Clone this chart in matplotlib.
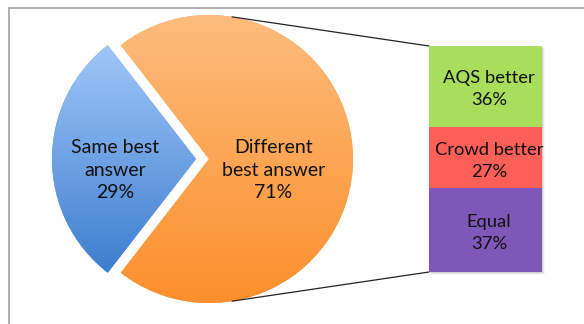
import numpy as np
import matplotlib.pyplot as plt
from matplotlib.patches import ConnectionPatch, Rectangle
from matplotlib.lines import Line2D
from matplotlib.colors import LinearSegmentedColormap

plt.rcParams['font.family'] = ['Lato', 'DejaVu Sans']

# pie: same vs different best answer
pie_labels = ['Same best\nanswer', 'Different\nbest answer']
pie_values = [29, 71]

# breakdown of the "different" slice, bottom to top
bar_labels = ['Equal', 'Crowd better', 'AQS better']
bar_values = [37, 27, 36]
bar_colors = ['#7e57b9', '#fc5f58', '#a9dd5c']

W, H = 584, 324
FS = 14
fig = plt.figure(figsize=(W / 100, H / 100), dpi=100)

# outer frame (only top and left edges visible)
fig.add_artist(Line2D([8.5 / W, 8.5 / W], [0, 1 - 7.7 / H], color='#a8a8a8', lw=1.3))
fig.add_artist(Line2D([8.5 / W, 1], [1 - 7.7 / H, 1 - 7.7 / H], color='#a8a8a8', lw=1.3))

# pie axes, radius 1 == 144 px, centred at (209, 159) from top
R = 144
cx, cy = 209, H - 159
side = 2.5 * R
pax = fig.add_axes([(cx - side / 2) / W, (cy - side / 2) / H, side / W, side / H])
start = 180 - pie_values[0] * 3.6 / 2
wedges, _ = pax.pie(pie_values, explode=[13 / R, 0], startangle=start,
                    colors=['#6a9fe3', '#fda456'])

grads = [('#a0c6f8', '#3e7ecf'), ('#fdbc7d', '#fc8f2c')]
for w, (top, bot) in zip(wedges, grads):
    cmap = LinearSegmentedColormap.from_list('g', [bot, top])
    bb = w.get_path().get_extents(w.get_patch_transform())
    im = pax.imshow(np.linspace(0, 1, 256).reshape(-1, 1), cmap=cmap,
                    extent=[bb.x0, bb.x1, bb.y0, bb.y1], origin='lower', aspect='auto',
                    interpolation='bicubic', zorder=2)
    im.set_clip_path(w)
pax.set_xlim(-1.25, 1.25)
pax.set_ylim(-1.25, 1.25)
pax.set_aspect('equal')
pax.axis('off')

# slice labels
blue_cx = -13 / R
pax.text(blue_cx - 81 / R, -11 / R, f'{pie_labels[0]}\n{pie_values[0]}%',
         ha='center', va='center', fontsize=FS, color='#111111',
         linespacing=1.38, zorder=3)
pax.text(64.5 / R, -11 / R, f'{pie_labels[1]}\n{pie_values[1]}%',
         ha='center', va='center', fontsize=FS, color='#111111',
         linespacing=1.38, zorder=3)

# stacked bar for the breakdown
bx0, bx1, btop, bbot = 429, 542, 46, 272
bax = fig.add_axes([bx0 / W, (H - bbot) / H, (bx1 - bx0) / W, (bbot - btop) / H])
bottoms = np.concatenate([[0], np.cumsum(bar_values)[:-1]])
bars = bax.bar(0, bar_values, bottom=bottoms, width=1, color=bar_colors, zorder=2)
for b, lab, v, b0 in zip(bars, bar_labels, bar_values, bottoms):
    bax.text(0.03, b0 + v / 2 - 1.2, f'{lab}\n{v}%', ha='center', va='center',
             fontsize=13.2, color='#111111', linespacing=1.45, zorder=3)
bax.set_xlim(-0.5, 0.5)
bax.set_ylim(0, sum(bar_values))
bax.axis('off')

# soft shadow behind the bar
for i, a in enumerate([0.10, 0.06, 0.03]):
    off = i + 1
    fig.add_artist(Rectangle(((bx0 + off) / W, (H - bbot - off) / H),
                             (bx1 - bx0) / W, (bbot - btop) / H,
                             color='black', alpha=a, lw=0, zorder=0))
bax.set_zorder(2)

# connector lines from the pie edge to the bar corners
ang = np.deg2rad(80.8)
for sgn, yb in [(1, sum(bar_values)), (-1, 0)]:
    con = ConnectionPatch(xyA=(np.cos(ang), sgn * np.sin(ang)), coordsA=pax.transData,
                          xyB=(-0.5, yb), coordsB=bax.transData,
                          color='#222222', lw=0.9)
    fig.add_artist(con)

fig.savefig('out.png', dpi=100)
